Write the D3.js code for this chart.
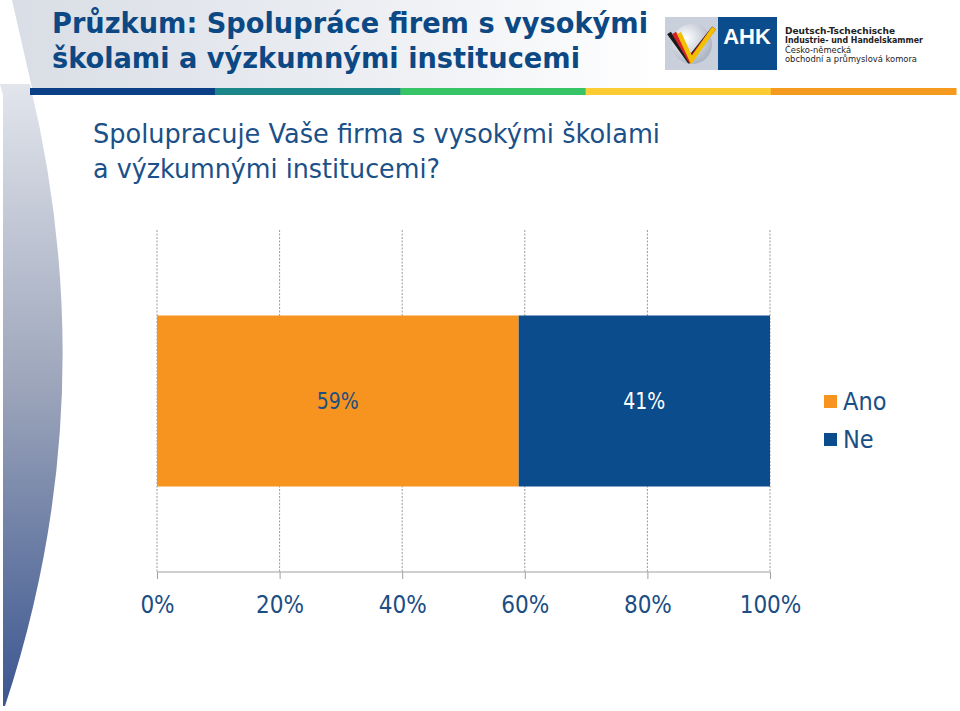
<!DOCTYPE html>
<html><head><meta charset="utf-8">
<script src="https://cdn.jsdelivr.net/npm/d3@7"></script>
<style>
html,body{margin:0;padding:0;background:#fff;}
svg{display:block;}
text{font-family:"DejaVu Sans Condensed","DejaVu Sans",sans-serif;}
</style></head>
<body>
<svg id="chart" width="960" height="711"></svg>
<script>
// ---- data ----
const titleLines = ["Průzkum: Spolupráce firem s vysokými", "školami a výzkumnými institucemi"];
const questionLines = ["Spolupracuje Vaše firma s vysokými školami", "a výzkumnými institucemi?"];
const categories = ["Spolupracuje"];
const seriesNames = ["Ano", "Ne"];
const seriesValues = [59, 41];
const seriesColors = ["#f6941f", "#0b4c8c"];
const labelColors = ["#1d4f82", "#ffffff"];
const tickValues = [0, 20, 40, 60, 80, 100];
const tickLabels = ["0%", "20%", "40%", "60%", "80%", "100%"];
const logoLines = ["Deutsch-Tschechische", "Industrie- und Handelskammer", "Česko-německá", "obchodní a průmyslová komora"];
const stripeColors = ["#0b3f86", "#1b868a", "#36c466", "#fdcb34", "#f39a1f"];

const svg = d3.select("#chart");
const defs = svg.append("defs");

// ---- decoration ----
const hg = defs.append("linearGradient").attr("id","hdr").attr("x1","0").attr("x2","1").attr("y1","0").attr("y2","0");
hg.append("stop").attr("offset","0").attr("stop-color","#d9dde5");
hg.append("stop").attr("offset","0.6").attr("stop-color","#eef0f4");
hg.append("stop").attr("offset","1").attr("stop-color","#ffffff");
svg.append("path").attr("d","M12,0 L662,0 L662,88 L32,88 Z").attr("fill","url(#hdr)");

const lg = defs.append("linearGradient").attr("id","side").attr("x1","0").attr("x2","0").attr("y1","0").attr("y2","1");
lg.append("stop").attr("offset","0").attr("stop-color","#e2e5ec");
lg.append("stop").attr("offset","0.5").attr("stop-color","#9aa3b9");
lg.append("stop").attr("offset","1").attr("stop-color","#3b5690");
svg.append("path").attr("d","M0,84 L30,84 Q106,400 5,706 L3,706 L3,95 Z").attr("fill","url(#side)");

// stripes
const stripeX = d3.scaleBand().domain(d3.range(stripeColors.length)).range([30, 956]);
svg.selectAll("rect.stripe").data(stripeColors).join("rect").attr("class","stripe")
  .attr("x",(d,i)=>stripeX(i)).attr("width",stripeX.bandwidth()+0.5)
  .attr("y",88).attr("height",7).attr("fill",d=>d);

// title
svg.selectAll("text.title").data(titleLines).join("text").attr("class","title")
  .attr("x",52).attr("y",(d,i)=>33+i*35)
  .attr("textLength",(d,i)=>[596,528][i]).attr("lengthAdjust","spacingAndGlyphs")
  .attr("font-size",29).attr("font-weight","bold").attr("fill","#0c4884")
  .style("font-family","'DejaVu Sans Condensed','DejaVu Sans',sans-serif")
  .text(d=>d);

// logo
const logo = svg.append("g");
const sg = defs.append("radialGradient").attr("id","ball").attr("cx","0.35").attr("cy","0.35").attr("r","0.7");
sg.append("stop").attr("offset","0").attr("stop-color","#ffffff");
sg.append("stop").attr("offset","1").attr("stop-color","#a9b2c2");
logo.append("rect").attr("x",665).attr("y",17).attr("width",53).attr("height",53).attr("fill","#c9d0dc");
logo.append("circle").attr("cx",692).attr("cy",44).attr("r",20).attr("fill","url(#ball)");
[["#1a1a1a",-5],["#d2232a",0],["#f2c000",5]].forEach(([c,o])=>{
  logo.append("path").attr("d",`M${674+o},${33} L${690+o*0.3},${60} L${714},${28}`)
    .attr("fill","none").attr("stroke",c).attr("stroke-width",4.5).attr("stroke-linejoin","miter");
});
logo.append("rect").attr("x",718).attr("y",17).attr("width",59).attr("height",53).attr("fill","#0b4c8c");
logo.append("text").attr("x",747).attr("y",44).attr("text-anchor","middle")
  .attr("font-size",22).attr("font-weight","bold").attr("fill","#fff")
  .style("font-family","'Liberation Sans',Arial,sans-serif").text("AHK");
logo.selectAll("text.ll").data(logoLines).join("text").attr("class","ll")
  .attr("x",785).attr("y",(d,i)=>34+i*9.4)
  .attr("font-size",8.5).attr("font-weight",(d,i)=>i<2?"bold":"normal").attr("fill","#222")
  .attr("textLength",(d,i)=>[110,138,66,132][i]).attr("lengthAdjust","spacingAndGlyphs")
  .text(d=>d);

// question
svg.selectAll("text.q").data(questionLines).join("text").attr("class","q")
  .attr("x",93).attr("y",(d,i)=>143+i*35)
  .attr("textLength",(d,i)=>[567,347][i]).attr("lengthAdjust","spacingAndGlyphs")
  .attr("font-size",27).attr("fill","#1b5088")
  .style("font-family","'DejaVu Sans',sans-serif")
  .text(d=>d);

// ---- chart ----
const x = d3.scaleLinear().domain([0,100]).range([157,770]);
const y = d3.scaleBand().domain(categories).range([230,572]).paddingInner(0.5).paddingOuter(0.25);

// gridlines
svg.append("g").selectAll("line").data(tickValues).join("line")
  .attr("x1",d=>x(d)).attr("x2",d=>x(d)).attr("y1",230).attr("y2",572)
  .attr("stroke","#9a9a9a").attr("stroke-width",1).attr("stroke-dasharray","2,1.5");

// bars
const stacks = [];
let acc = 0;
seriesValues.forEach((v,i)=>{stacks.push({name:seriesNames[i],v,x0:acc,x1:acc+v,i});acc+=v;});
const bars = svg.append("g");
categories.forEach(cat=>{
  bars.selectAll("rect").data(stacks).join("rect")
    .attr("x",d=>x(d.x0)).attr("width",d=>x(d.x1)-x(d.x0))
    .attr("y",y(cat)).attr("height",y.bandwidth())
    .attr("fill",d=>seriesColors[d.i]);
  bars.selectAll("text").data(stacks).join("text")
    .attr("x",d=>(x(d.x0)+x(d.x1))/2).attr("y",y(cat)+y.bandwidth()/2)
    .attr("dy","0.36em").attr("text-anchor","middle")
    .attr("font-size",23).attr("fill",d=>labelColors[d.i])
    .attr("textLength",42).attr("lengthAdjust","spacingAndGlyphs")
    .text(d=>d.v+"%");
});

// axis
const axis = d3.axisBottom(x).tickValues(tickValues).tickSize(7).tickFormat((d,i)=>tickLabels[i]);
const ax = svg.append("g").attr("transform","translate(0,572)").call(axis);
ax.select(".domain").attr("stroke","#a0a0a0").attr("stroke-width",1.2).attr("d",`M${x(0)},0H${x(100)}`);
ax.selectAll(".tick line").attr("stroke","#a0a0a0");
ax.selectAll(".tick text").attr("y",41).attr("dy",0).attr("font-size",24)
  .attr("fill","#1b4e85").style("font-family","'DejaVu Sans Condensed','DejaVu Sans',sans-serif");

// legend
const leg = svg.append("g");
leg.selectAll("rect").data(seriesNames).join("rect")
  .attr("x",824).attr("y",(d,i)=>395+i*38).attr("width",13).attr("height",13)
  .attr("fill",(d,i)=>seriesColors[i]);
leg.selectAll("text").data(seriesNames).join("text")
  .attr("x",843).attr("y",(d,i)=>410+i*38).attr("font-size",25).attr("fill","#1b4e85")
  .text(d=>d);
</script>
</body></html>
